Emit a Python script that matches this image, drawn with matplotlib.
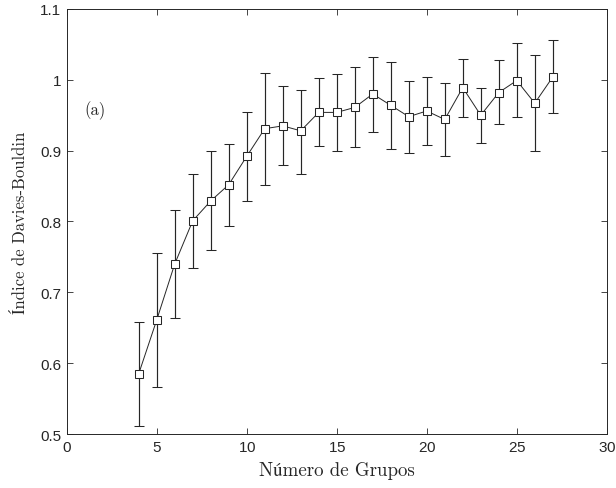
import numpy as np
import matplotlib
matplotlib.use('Agg')
import matplotlib.pyplot as plt

# Davies-Bouldin index vs number of groups
groups = [4, 5, 6, 7, 8, 9, 10, 11, 12, 13, 14, 15, 16, 17, 18, 19, 20, 21, 22, 23, 24, 25, 26, 27]
dbi_mean = [0.585, 0.661, 0.740, 0.801, 0.829, 0.852, 0.892, 0.931, 0.935, 0.928, 0.954, 0.954,
            0.961, 0.980, 0.964, 0.948, 0.956, 0.944, 0.989, 0.950, 0.982, 0.999, 0.967, 1.004]
dbi_upper = [0.658, 0.756, 0.816, 0.867, 0.899, 0.909, 0.955, 1.009, 0.991, 0.986, 1.003, 1.008,
             1.018, 1.032, 1.025, 0.999, 1.004, 0.996, 1.030, 0.988, 1.028, 1.052, 1.035, 1.056]
dbi_lower = [0.511, 0.566, 0.664, 0.735, 0.760, 0.794, 0.829, 0.851, 0.880, 0.867, 0.906, 0.900,
             0.905, 0.927, 0.903, 0.896, 0.908, 0.892, 0.948, 0.911, 0.937, 0.947, 0.900, 0.953]

mean = np.array(dbi_mean)
yerr = [mean - np.array(dbi_lower), np.array(dbi_upper) - mean]

dark = '#262626'
serif = ['cmr10', 'STIXGeneral', 'DejaVu Serif']
plt.rcParams['axes.formatter.use_mathtext'] = True

fig = plt.figure(figsize=(6.16, 4.89), dpi=100)
ax = fig.add_axes([0.1083, 0.1104, 0.985 - 0.1083, 0.9796 - 0.1104])

ax.errorbar(groups, mean, yerr=yerr, color=dark, lw=0.7, elinewidth=0.85,
            capsize=3.6, capthick=0.85, marker='s', ms=5.6, mfc='white',
            mec=dark, mew=0.75)

ax.set_xlim(0, 30)
ax.set_ylim(0.5, 1.1)
ax.set_xticks(np.arange(0, 31, 5))
ax.set_yticks(np.arange(0.5, 1.101, 0.1))
ax.set_yticklabels(['0.5', '0.6', '0.7', '0.8', '0.9', '1', '1.1'])

ax.tick_params(direction='in', top=True, right=True, length=4, width=0.6,
               colors=dark, labelsize=11, pad=4)
for lab in ax.get_xticklabels() + ax.get_yticklabels():
    lab.set_family(['Liberation Sans', 'DejaVu Sans'])
for s in ax.spines.values():
    s.set_color(dark)
    s.set_linewidth(0.7)

ax.set_xlabel('Número de Grupos', family=serif, fontsize=13.6, color=dark, labelpad=5)
ax.set_ylabel('Índice de Davies-Bouldin', family=serif, fontsize=12, color=dark, labelpad=9)
ax.text(1.0, 0.958, '(a)', family=serif, fontsize=12, color=dark, va='center')

plt.savefig('out.png', dpi=100)
